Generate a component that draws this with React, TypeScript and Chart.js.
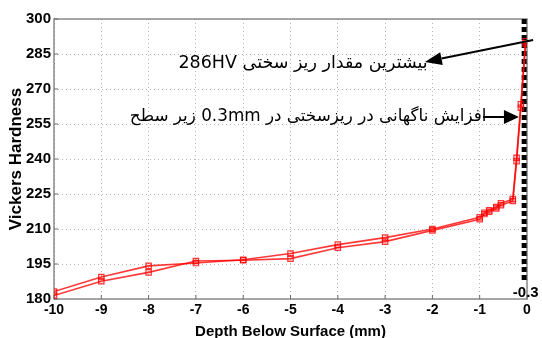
import React, { useEffect, useRef } from "react";
import { Chart, registerables } from "chart.js";

Chart.register(...registerables);

// ---- data ----
const depthMm = [-10, -9, -8, -7, -6, -5, -4, -3, -2, -1, -0.9, -0.8, -0.65, -0.55, -0.3, -0.22, -0.13, -0.03];
const hardnessRun1 = [183.2, 189.4, 194.2, 195.4, 196.8, 199.5, 203.3, 206.3, 210.0, 215.0, 217.0, 218.0, 219.4, 221.0, 222.8, 240.5, 263.5, 290.5];
const hardnessRun2 = [181.5, 187.6, 191.4, 196.3, 196.6, 197.3, 202.0, 204.6, 209.4, 214.2, 216.4, 217.4, 218.8, 220.2, 222.0, 239.0, 262.0, 289.5];

const xMin = -10;
const xMax = 0;
const xStep = 1;
const yMin = 180;
const yMax = 300;
const yStep = 15;

const markerDepth = -0.06;
const markerSpan = [300, 187];
const markerLabel = "-0.3";
const markerLabelAt = { x: -0.3, y: 182.6 };

const xTitle = "Depth Below Surface (mm)";
const yTitle = "Vickers Hardness";

const note1Text = "بیشترین مقدار ریز سختی 286HV";
const note1At = { x: -2.1, y: 281.1 };
const arrow1From = { x: 0.13, y: 291.0 };
const arrow1To = { x: -2.16, y: 281.6 };

const note2Text = "افزایش ناگهانی در ریزسختی در 0.3mm زیر سطح";
const note2At = { x: -0.86, y: 258.1 };
const arrow2From = { x: -0.93, y: 258.0 };
const arrow2To = { x: -0.17, y: 258.0 };

const LATIN = '"Liberation Sans", Arial, sans-serif';
const PERSIAN = '"DejaVu Sans", "Liberation Sans", sans-serif';
const RED = "rgba(255,0,0,0.78)";

function drawArrow(ctx: CanvasRenderingContext2D, x1: number, y1: number, x2: number, y2: number, headLen: number, headHalf: number) {
  const ang = Math.atan2(y2 - y1, x2 - x1);
  const bx = x2 - headLen * Math.cos(ang);
  const by = y2 - headLen * Math.sin(ang);
  ctx.save();
  ctx.strokeStyle = "#000";
  ctx.fillStyle = "#000";
  ctx.lineWidth = 2;
  ctx.beginPath();
  ctx.moveTo(x1, y1);
  ctx.lineTo(bx, by);
  ctx.stroke();
  ctx.beginPath();
  ctx.moveTo(x2, y2);
  ctx.lineTo(bx + headHalf * Math.sin(ang), by - headHalf * Math.cos(ang));
  ctx.lineTo(bx - headHalf * Math.sin(ang), by + headHalf * Math.cos(ang));
  ctx.closePath();
  ctx.fill();
  ctx.restore();
}

const framePlugin = {
  id: "frame",
  beforeDatasetsDraw(chart: any) {
    const { ctx, chartArea: a } = chart;
    const xs = chart.scales.x;
    const ys = chart.scales.y;
    ctx.save();
    ctx.strokeStyle = "#8a8a8a";
    ctx.lineWidth = 1.5;
    ctx.strokeRect(a.left, a.top, a.right - a.left, a.bottom - a.top);
    // small inward tick marks
    ctx.strokeStyle = "#6a6a6a";
    ctx.lineWidth = 1;
    ctx.beginPath();
    ys.ticks.forEach((t: any) => {
      const y = ys.getPixelForValue(t.value);
      ctx.moveTo(a.left, y);
      ctx.lineTo(a.left + 4, y);
    });
    xs.ticks.forEach((t: any) => {
      const x = xs.getPixelForValue(t.value);
      ctx.moveTo(x, a.bottom);
      ctx.lineTo(x, a.bottom - 4);
    });
    ctx.stroke();
    ctx.restore();
  },
  afterDatasetsDraw(chart: any) {
    const { ctx } = chart;
    const xs = chart.scales.x;
    const ys = chart.scales.y;
    const px = (v: number) => xs.getPixelForValue(v);
    const py = (v: number) => ys.getPixelForValue(v);

    ctx.save();
    ctx.font = `bold 15px ${LATIN}`;
    ctx.fillStyle = "#000";
    ctx.textAlign = "left";
    ctx.textBaseline = "middle";
    ctx.fillText(markerLabel, px(markerLabelAt.x), py(markerLabelAt.y));

    ctx.direction = "rtl";
    ctx.textAlign = "right";
    ctx.font = `17.5px ${PERSIAN}`;
    ctx.fillText(note1Text, px(note1At.x), py(note1At.y));
    ctx.font = `16.8px ${PERSIAN}`;
    ctx.fillText(note2Text, px(note2At.x), py(note2At.y));
    ctx.restore();

    drawArrow(ctx, px(arrow1From.x), py(arrow1From.y), px(arrow1To.x), py(arrow1To.y), 17, 6.5);
    drawArrow(ctx, px(arrow2From.x), py(arrow2From.y), px(arrow2To.x), py(arrow2To.y), 15, 7);
  },
};

export default function App() {
  const ref = useRef<HTMLCanvasElement | null>(null);

  useEffect(() => {
    if (!ref.current) return;
    const toPts = (ys: number[]) => depthMm.map((x, i) => ({ x, y: ys[i] }));
    const series = (ys: number[]) => ({
      data: toPts(ys),
      borderColor: RED,
      backgroundColor: "rgba(0,0,0,0)",
      borderWidth: 1.6,
      pointStyle: "rect",
      pointRadius: 3.8,
      pointBorderWidth: 1.2,
      pointBorderColor: RED,
      pointBackgroundColor: "rgba(255,0,0,0.1)",
      tension: 0,
    });
    const chart = new Chart(ref.current, {
      type: "line",
      data: {
        datasets: [
          series(hardnessRun1),
          series(hardnessRun2),
          {
            data: markerSpan.map((y) => ({ x: markerDepth, y })),
            borderColor: "#000",
            borderWidth: 5,
            borderDash: [5, 3],
            borderCapStyle: "butt",
            pointRadius: 0,
          },
        ],
      },
      options: {
        animation: false,
        responsive: false,
        events: [],
        layout: { padding: { top: 19, right: 15, left: 0, bottom: 0 } },
        plugins: { legend: { display: false }, tooltip: { enabled: false } },
        scales: {
          x: {
            type: "linear",
            min: xMin,
            max: xMax,
            afterFit: (s: any) => {
              s.height = 39;
            },
            ticks: {
              stepSize: xStep,
              padding: 3,
              color: "#000",
              font: { family: LATIN, size: 14, weight: "bold" },
              maxRotation: 0,
            },
            grid: { color: "#b4b4b4", lineWidth: 1, drawTicks: false },
            border: { display: false, dash: [1, 3] },
            title: {
              display: true,
              text: xTitle,
              color: "#000",
              font: { family: LATIN, size: 15, weight: "bold", lineHeight: 1 },
              padding: { top: 0, bottom: -1.5 },
            },
          },
          y: {
            type: "linear",
            min: yMin,
            max: yMax,
            afterFit: (s: any) => {
              s.width = 54;
            },
            ticks: {
              stepSize: yStep,
              padding: 3,
              color: "#000",
              font: { family: LATIN, size: 15, weight: "bold" },
            },
            grid: { color: "#b4b4b4", lineWidth: 1, drawTicks: false },
            border: { display: false, dash: [1, 3] },
            title: {
              display: true,
              text: yTitle,
              color: "#000",
              font: { family: LATIN, size: 17, weight: "bold", lineHeight: 1 },
              padding: { top: 7.5, bottom: 0 },
            },
          },
        },
      },
      plugins: [framePlugin],
    } as any);
    return () => chart.destroy();
  }, []);

  return (
    <div style={{ position: "absolute", left: 0, top: 0, width: 542, height: 338, background: "#fff" }}>
      <canvas ref={ref} width={542} height={338} />
    </div>
  );
}
